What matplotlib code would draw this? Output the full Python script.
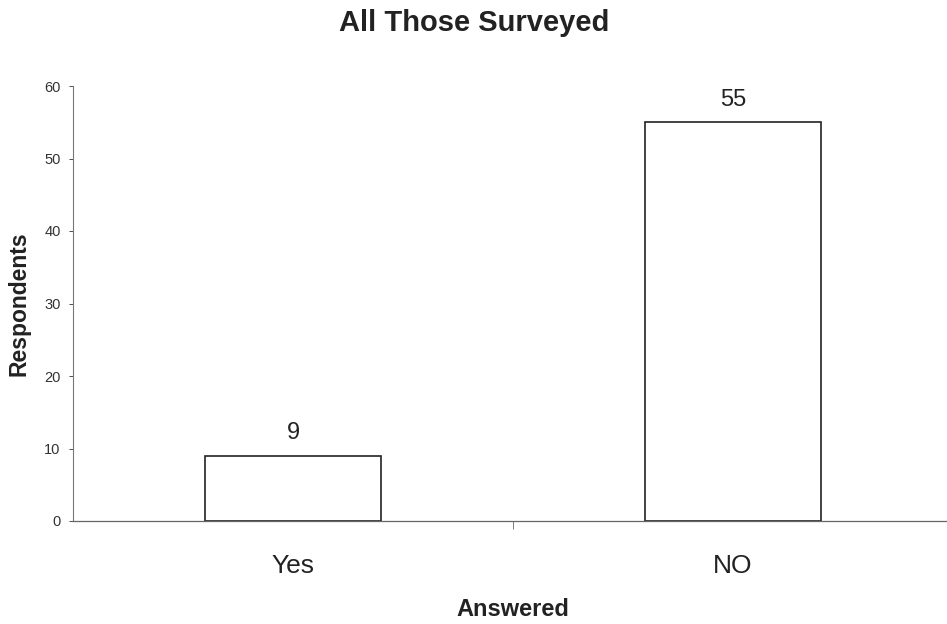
import matplotlib.pyplot as plt

plt.rcParams['font.family'] = ['Liberation Sans', 'DejaVu Sans']

answers = ['Yes', 'NO']
respondents = [9, 55]

fig = plt.figure(figsize=(9.47, 6.24), dpi=100)
# axes run off the right edge of the figure
ax = fig.add_axes([73 / 947, 103 / 624, 880 / 947, 435 / 624])

x = range(len(answers))
bars = ax.bar(x, respondents, width=0.4, color='white', edgecolor='#222222', linewidth=1.2)
for b, v in zip(bars, respondents):
    ax.text(b.get_x() + b.get_width() / 2, v + 1.6, str(v), ha='center', va='bottom',
            fontsize=17, color='#222222')

ax.set_xlim(-0.5, 1.5)
ax.set_ylim(0, 60)
ax.set_yticks(range(0, 61, 10))
ax.tick_params(axis='y', labelsize=10.5, colors='#333333', length=3, width=0.6, pad=6)
ax.set_xticks(x)
ax.set_xticklabels(answers, fontsize=19, color='#222222')
ax.tick_params(axis='x', length=0, pad=24)
# divider tick between the two categories
ax.set_xticks([0.5], minor=True)
ax.tick_params(axis='x', which='minor', length=6, width=0.6, colors='#666666', direction='out')

for side in ['top', 'right']:
    ax.spines[side].set_visible(False)
ax.spines['left'].set_color('#777777')
ax.spines['left'].set_linewidth(0.8)
ax.spines['bottom'].set_color('#666666')
ax.spines['bottom'].set_linewidth(0.9)

ax.set_ylabel('Respondents', fontsize=16.5, fontweight='bold', color='#222222', labelpad=10)
ax.set_xlabel('Answered', fontsize=17, fontweight='bold', color='#222222', labelpad=14)
fig.text(474 / 947, 1 - 23 / 624, 'All Those Surveyed', ha='center', va='center',
         fontsize=21, fontweight='bold', color='#222222')

fig.savefig('out.png', dpi=100)
